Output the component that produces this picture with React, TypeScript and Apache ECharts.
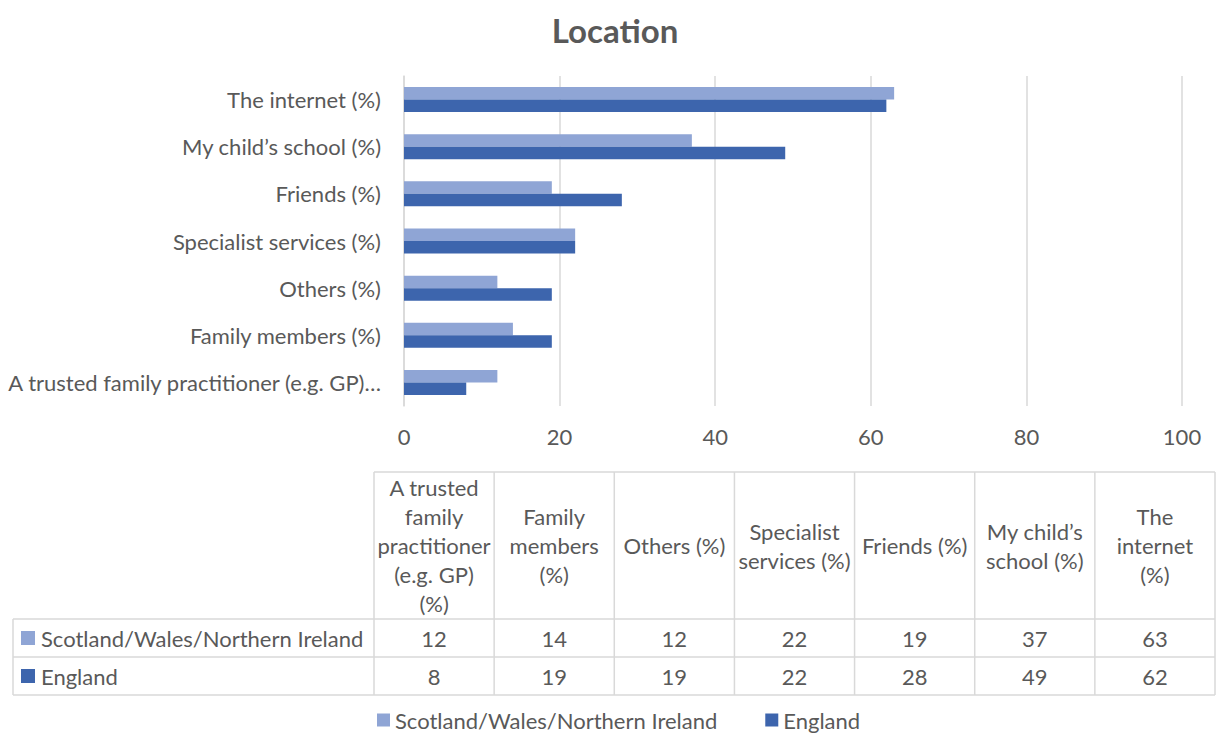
import React, { useEffect, useRef } from "react";
import * as echarts from "echarts";

const categories = [
  "A trusted family practitioner (e.g. GP) (%)",
  "Family members (%)",
  "Others (%)",
  "Specialist services (%)",
  "Friends (%)",
  "My child’s school (%)",
  "The internet (%)",
];
const tableHeaders = [
  "A trusted\nfamily\npractitioner\n(e.g. GP)\n(%)",
  "Family\nmembers\n(%)",
  "Others (%)",
  "Specialist\nservices (%)",
  "Friends (%)",
  "My child’s\nschool (%)",
  "The\ninternet\n(%)",
];
const seriesNames = ["Scotland/Wales/Northern Ireland", "England"];
const scotlandWalesNI = [12, 14, 12, 22, 19, 37, 63];
const england = [8, 19, 19, 22, 28, 49, 62];
const xTicks = { min: 0, max: 100, interval: 20 };

const COLORS = ["#8FA5D5", "#3D65AD"];
const TEXT = "#595959";
const GRID = "#D9D9D9";
const FONT = "Lato, 'Open Sans', sans-serif";
const FS = 22;

export default function App() {
  const ref = useRef<HTMLDivElement>(null);
  useEffect(() => {
    if (!ref.current) return;
    const chart = echarts.init(ref.current, null, { renderer: "svg" });

    const W = 1216;
    const tLeft = 13;
    const tFirst = 374;
    const tRight = 1215;
    const tTop = 472;
    const rowTops = [619, 657, 695];
    const colW = (tRight - tFirst) / categories.length;
    const graphics: any[] = [];
    graphics.push({
      type: "text",
      x: 615,
      y: 30,
      style: {
        text: "Location",
        fill: TEXT,
        fontSize: 33,
        fontWeight: "bold",
        fontFamily: FONT,
        align: "center",
        verticalAlign: "middle",
      },
    });
    const line = (x1: number, y1: number, x2: number, y2: number) =>
      graphics.push({
        type: "line",
        shape: { x1, y1, x2, y2 },
        style: { stroke: GRID, lineWidth: 1.5 },
        silent: true,
      });
    line(tFirst, tTop, tRight, tTop);
    rowTops.forEach((y) => line(tLeft, y, tRight, y));
    line(tLeft, rowTops[0], tLeft, rowTops[2]);
    for (let i = 0; i <= categories.length; i++) {
      const x = tFirst + i * colW;
      line(x, tTop, x, rowTops[2]);
    }
    tableHeaders.forEach((h, i) => {
      graphics.push({
        type: "text",
        x: tFirst + (i + 0.5) * colW,
        y: (tTop + rowTops[0]) / 2,
        style: {
          text: h,
          fill: TEXT,
          fontSize: FS,
          fontFamily: FONT,
          lineHeight: 29,
          align: "center",
          verticalAlign: "middle",
        },
      });
    });
    const rows = [scotlandWalesNI, england];
    rows.forEach((vals, r) => {
      const cy = (rowTops[r] + rowTops[r + 1]) / 2;
      graphics.push({
        type: "rect",
        shape: { x: 21, y: cy - 7, width: 14, height: 14 },
        style: { fill: COLORS[r] },
      });
      graphics.push({
        type: "text",
        x: 41,
        y: cy,
        style: {
          text: seriesNames[r],
          fill: TEXT,
          fontSize: FS,
          fontFamily: FONT,
          align: "left",
          verticalAlign: "middle",
        },
      });
      vals.forEach((v, i) => {
        graphics.push({
          type: "text",
          x: tFirst + (i + 0.5) * colW,
          y: cy,
          style: {
            text: String(v),
            fill: TEXT,
            fontSize: FS,
            fontFamily: FONT,
            align: "center",
            verticalAlign: "middle",
          },
        });
      });
    });

    chart.setOption({
      animation: false,
      backgroundColor: "#FFFFFF",
      textStyle: { fontFamily: FONT, color: TEXT },
      legend: {
        data: seriesNames,
        top: 704,
        left: 372,
        icon: "rect",
        itemWidth: 13,
        itemHeight: 13,
        itemGap: 48,
        textStyle: { fontSize: FS, color: TEXT, fontFamily: FONT },
      },
      grid: { left: 404, right: W - 1182, top: 76, bottom: 733 - 406, containLabel: false },
      xAxis: {
        type: "value",
        min: xTicks.min,
        max: xTicks.max,
        interval: xTicks.interval,
        axisLine: { show: false },
        axisTick: { show: false },
        splitLine: { lineStyle: { color: GRID, width: 1.5 } },
        axisLabel: { fontSize: FS, color: TEXT, margin: 19, fontFamily: FONT },
      },
      yAxis: {
        type: "category",
        data: categories,
        axisLine: { show: true, lineStyle: { color: GRID, width: 1.5 } },
        axisTick: { show: false },
        axisLabel: {
          fontSize: FS,
          color: TEXT,
          margin: 23,
          fontFamily: FONT,
          formatter: (v: string) =>
            v.length > 40 ? v.replace(/ \(%\)$/, "") + "…" : v,
        },
      },
      series: [
        {
          name: seriesNames[0],
          type: "bar",
          data: scotlandWalesNI,
          barWidth: 12.5,
          barGap: "0%",
          itemStyle: { color: COLORS[0] },
        },
        {
          name: seriesNames[1],
          type: "bar",
          data: england,
          barWidth: 12.5,
          barGap: "0%",
          itemStyle: { color: COLORS[1] },
        },
      ],
      graphic: graphics,
    });
    return () => chart.dispose();
  }, []);
  return (
    <div
      ref={ref}
      style={{ position: "absolute", left: 0, top: 0, width: 1216, height: 733 }}
    />
  );
}
